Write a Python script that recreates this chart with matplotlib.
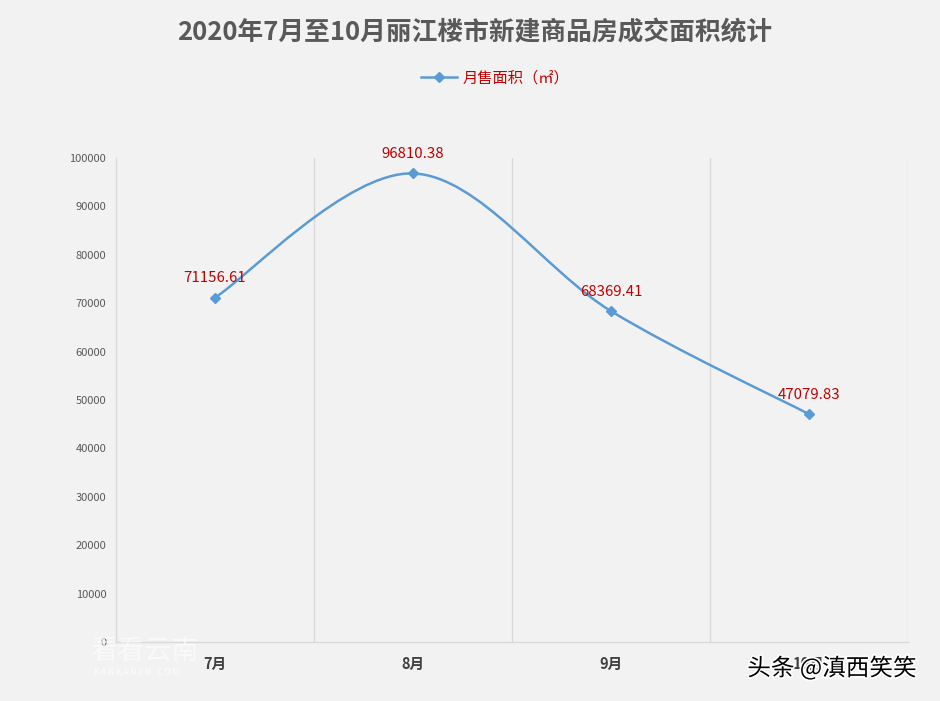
import matplotlib
matplotlib.use("Agg")
import matplotlib.pyplot as plt
from matplotlib.path import Path
from matplotlib.patches import PathPatch
import matplotlib.patheffects as pe

plt.rcParams['font.family'] = ['Noto Sans CJK SC', 'DejaVu Sans']

# data
months = ['7月', '8月', '9月', '10月']
area = [71156.61, 96810.38, 68369.41, 47079.83]
yticks = [0, 10000, 20000, 30000, 40000, 50000, 60000, 70000, 80000, 90000, 100000]

title = '2020年7月至10月丽江楼市新建商品房成交面积统计'
series_name = '月售面积（㎡）'

line_col = '#5b9bd5'
label_col = '#c00000'
grid_col = '#d9d9d9'
bg = '#f2f2f2'

fig = plt.figure(figsize=(9.4, 7.01), dpi=100, facecolor=bg)
ax = fig.add_axes([116 / 940, 59 / 701, 792 / 940, 484 / 701])
ax.set_facecolor(bg)

xs = list(range(len(months)))

# excel style smoothed line: bezier segments through the points
verts = [(xs[0], area[0])]
codes = [Path.MOVETO]
for i in range(len(xs) - 1):
    p0 = (xs[max(i - 1, 0)], area[max(i - 1, 0)])
    p1 = (xs[i], area[i])
    p2 = (xs[i + 1], area[i + 1])
    p3 = (xs[min(i + 2, len(xs) - 1)], area[min(i + 2, len(xs) - 1)])
    c1 = (p1[0] + (p2[0] - p0[0]) / 6, p1[1] + (p2[1] - p0[1]) / 6)
    c2 = (p2[0] - (p3[0] - p1[0]) / 6, p2[1] - (p3[1] - p1[1]) / 6)
    verts += [c1, c2, p2]
    codes += [Path.CURVE4] * 3
ax.add_patch(PathPatch(Path(verts, codes), facecolor='none', edgecolor=line_col,
                       lw=1.8, zorder=3, capstyle='round'))
ax.plot(xs, area, ls='none', marker='D', ms=5.5, color=line_col, zorder=4)

for x, v in zip(xs, area):
    ax.annotate('%.2f' % v, (x, v), xytext=(0, 9), textcoords='offset points',
                ha='center', va='bottom', color=label_col, fontsize=10.8)

ax.set_xlim(-0.5, len(months) - 0.5)
ax.set_ylim(0, 100000)
ax.set_yticks(yticks)
ax.set_yticklabels([str(t) for t in yticks])
ax.set_xticks(xs)
ax.set_xticklabels(months, fontweight='bold', fontsize=10.5, color='#404040')
ax.tick_params(axis='y', length=0, labelsize=8, labelcolor='#595959', pad=7)
ax.tick_params(axis='x', length=0, pad=10)

# vertical gridlines between categories
for b in [0.5, 1.5, 2.5, 3.5]:
    ax.axvline(b, color=grid_col, lw=1, zorder=1)
for s in ['top', 'right']:
    ax.spines[s].set_visible(False)
for s in ['left', 'bottom']:
    ax.spines[s].set_color(grid_col)
    ax.spines[s].set_linewidth(1)

fig.text(0.505, 0.953, title, ha='center', va='center', fontsize=18.5,
         fontweight='bold', color='#595959')

h, = ax.plot([], [], color=line_col, lw=1.8, marker='D', ms=5.5)
leg = fig.legend([h], [series_name], loc='center', bbox_to_anchor=(0.527, 0.889),
                 frameon=False, fontsize=11, handlelength=2.3, handletextpad=0.4)
for t in leg.get_texts():
    t.set_color(label_col)

# watermarks
fig.text(0.096, 0.071, '看看云南', fontsize=19.5, color='white', alpha=0.6, va='center')
fig.text(0.1, 0.04, 'K A N K A N Y N . C O M', fontsize=6, color='white', alpha=0.8,
         va='center')
fig.text(0.795, 0.047, '头条 @滇西笑笑', fontsize=17, color='black', va='center',
         path_effects=[pe.withStroke(linewidth=2.5, foreground='white')])

fig.savefig('out.png', dpi=100, facecolor=bg, edgecolor='#d0d0d0')
